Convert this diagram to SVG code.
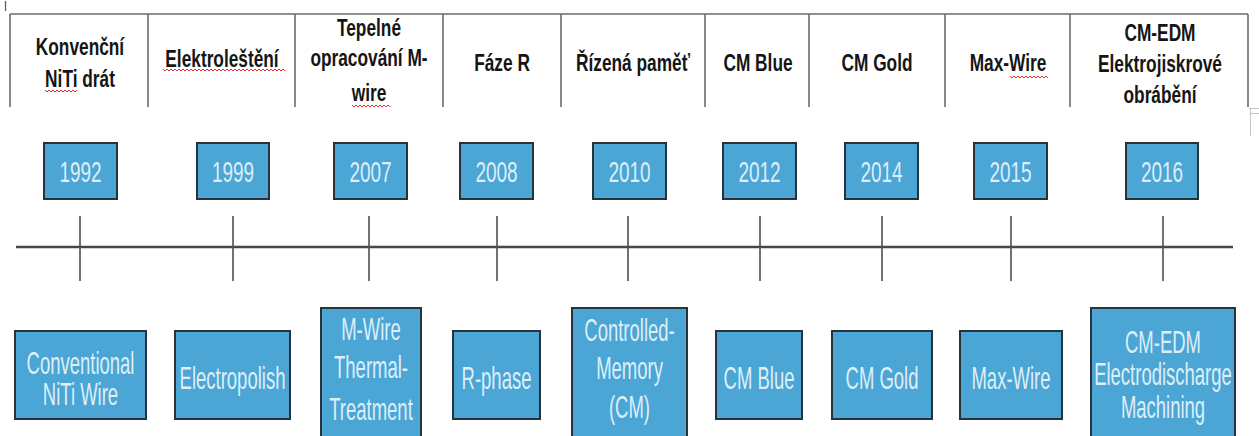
<svg xmlns="http://www.w3.org/2000/svg" width="1259" height="436" viewBox="0 0 1259 436">
<style>
.grid{stroke:#6a6a6a;stroke-width:1.6;fill:none}
.h{font-family:"Liberation Sans",Arial,sans-serif;font-weight:bold;font-size:17.3px;fill:#151515;text-anchor:middle}
.box{fill:#4ba5d5;stroke:#27323a;stroke-width:2}
.y{font-family:"Liberation Sans",Arial,sans-serif;font-size:19px;fill:#dcefF8;text-anchor:middle}
.t{font-family:"Liberation Sans",Arial,sans-serif;font-size:18.5px;fill:#dcefF8;text-anchor:middle}
.sq{stroke:#e03030;stroke-width:1;fill:none}
.axis{stroke:#474747;stroke-width:2.6}
.tick{stroke:#4f4f4f;stroke-width:1.6}
</style>
<rect width="1259" height="436" fill="#ffffff"/>
<g id="table">
<line class="grid" x1="10" y1="14" x2="1248" y2="14" stroke-width="2"/>
<line class="grid" x1="10" y1="14" x2="10" y2="107"/>
<line class="grid" x1="148" y1="14" x2="148" y2="107"/>
<line class="grid" x1="295" y1="14" x2="295" y2="107"/>
<line class="grid" x1="443" y1="14" x2="443" y2="107"/>
<line class="grid" x1="561" y1="14" x2="561" y2="107"/>
<line class="grid" x1="705" y1="14" x2="705" y2="107"/>
<line class="grid" x1="809" y1="14" x2="809" y2="107"/>
<line class="grid" x1="945" y1="14" x2="945" y2="107"/>
<line class="grid" x1="1070" y1="14" x2="1070" y2="107"/>
<line class="grid" x1="1248" y1="14" x2="1248" y2="107"/>
<line x1="5.5" y1="1" x2="5.5" y2="11" stroke="#555" stroke-width="1.2"/>
<path d="M1249 108.5 H1259 M1250.5 108.5 V136 M1250.5 113.5 H1259" stroke="#c4c4c4" stroke-width="1" fill="none"/>
</g>
<g id="h1"><text class="h" transform="translate(80,55) scale(1,1.38)">Konvenční</text><text class="h" transform="translate(80,87) scale(1,1.38)">NiTi drát</text><path class="sq" d="M45 90 l2 2 l2 -2 l2 2 l2 -2 l2 2 l2 -2 l2 2 l2 -2 l2 2 l2 -2 l2 2 l2 -2 l2 2 l2 -2 l2 2 l2 -2"/></g>
<g id="h2"><text class="h" transform="translate(222,67) scale(1,1.38)">Elektroleštění</text><path class="sq" d="M163 69 l2 2 l2 -2 l2 2 l2 -2 l2 2 l2 -2 l2 2 l2 -2 l2 2 l2 -2 l2 2 l2 -2 l2 2 l2 -2 l2 2 l2 -2 l2 2 l2 -2 l2 2 l2 -2 l2 2 l2 -2 l2 2 l2 -2 l2 2 l2 -2 l2 2 l2 -2 l2 2 l2 -2 l2 2 l2 -2 l2 2 l2 -2 l2 2 l2 -2 l2 2 l2 -2 l2 2 l2 -2 l2 2 l2 -2 l2 2 l2 -2 l2 2 l2 -2 l2 2 l2 -2 l2 2 l2 -2 l2 2 l2 -2 l2 2 l2 -2 l2 2 l2 -2 l2 2 l2 -2 l2 2 l2 -2 l2 2"/></g>
<g id="h3"><text class="h" transform="translate(369,36) scale(1,1.38)">Tepelné</text><text class="h" transform="translate(369,66) scale(1,1.38)">opracování M-</text><text class="h" transform="translate(369,101) scale(1,1.38)">wire</text><path class="sq" d="M352 105 l2 2 l2 -2 l2 2 l2 -2 l2 2 l2 -2 l2 2 l2 -2 l2 2 l2 -2 l2 2 l2 -2 l2 2 l2 -2 l2 2 l2 -2 l2 2 l2 -2 l2 2"/></g>
<g id="h4"><text class="h" transform="translate(502,71) scale(1,1.38)">Fáze R</text></g>
<g id="h5"><text class="h" transform="translate(633,71) scale(1,1.38)">Řízená paměť</text></g>
<g id="h6"><text class="h" transform="translate(758,71) scale(1,1.38)">CM Blue</text></g>
<g id="h7"><text class="h" transform="translate(877,71) scale(1,1.38)">CM Gold</text></g>
<g id="h8"><text class="h" transform="translate(1008,71) scale(1,1.38)">Max-Wire</text><path class="sq" d="M1010 76 l2 2 l2 -2 l2 2 l2 -2 l2 2 l2 -2 l2 2 l2 -2 l2 2 l2 -2 l2 2 l2 -2 l2 2 l2 -2 l2 2 l2 -2 l2 2 l2 -2 l2 2"/></g>
<g id="h9"><text class="h" transform="translate(1160,41) scale(1,1.38)">CM-EDM</text><text class="h" transform="translate(1160,72) scale(1,1.38)">Elektrojiskrové</text><text class="h" transform="translate(1160,103) scale(1,1.38)">obrábění</text></g>
<g id="connectors">
<line class="axis" x1="16" y1="247" x2="1233" y2="247"/>
<line class="tick" x1="80" y1="216" x2="80" y2="281"/>
<line class="tick" x1="233" y1="216" x2="233" y2="281"/>
<line class="tick" x1="369" y1="216" x2="369" y2="281"/>
<line class="tick" x1="497" y1="216" x2="497" y2="281"/>
<line class="tick" x1="628" y1="216" x2="628" y2="281"/>
<line class="tick" x1="760" y1="216" x2="760" y2="281"/>
<line class="tick" x1="882" y1="216" x2="882" y2="281"/>
<line class="tick" x1="1011" y1="216" x2="1011" y2="281"/>
<line class="tick" x1="1163" y1="216" x2="1163" y2="281"/>
</g>
<g id="y1992"><rect class="box" x="44" y="143" width="73" height="56"/><text class="y" transform="translate(80.5,182) scale(1,1.6)">1992</text></g>
<g id="y1999"><rect class="box" x="197" y="143" width="72" height="56"/><text class="y" transform="translate(233,182) scale(1,1.6)">1999</text></g>
<g id="y2007"><rect class="box" x="334" y="143" width="73" height="56"/><text class="y" transform="translate(370.5,182) scale(1,1.6)">2007</text></g>
<g id="y2008"><rect class="box" x="460" y="143" width="73" height="56"/><text class="y" transform="translate(496.5,182) scale(1,1.6)">2008</text></g>
<g id="y2010"><rect class="box" x="593" y="143" width="73" height="56"/><text class="y" transform="translate(629.5,182) scale(1,1.6)">2010</text></g>
<g id="y2012"><rect class="box" x="723" y="143" width="73" height="56"/><text class="y" transform="translate(759.5,182) scale(1,1.6)">2012</text></g>
<g id="y2014"><rect class="box" x="845" y="143" width="73" height="56"/><text class="y" transform="translate(881.5,182) scale(1,1.6)">2014</text></g>
<g id="y2015"><rect class="box" x="974" y="143" width="73" height="56"/><text class="y" transform="translate(1010.5,182) scale(1,1.6)">2015</text></g>
<g id="y2016"><rect class="box" x="1126" y="143" width="72" height="56"/><text class="y" transform="translate(1162,182) scale(1,1.6)">2016</text></g>
<g id="b1"><rect class="box" x="15" y="331" width="131" height="88"/><text class="t" transform="translate(80.5,374) scale(1,1.65)">Conventional</text><text class="t" transform="translate(80.5,405) scale(1,1.65)">NiTi Wire</text></g>
<g id="b2"><rect class="box" x="175" y="331" width="115" height="88"/><text class="t" transform="translate(232.5,389) scale(1,1.65)">Electropolish</text></g>
<g id="b3"><rect class="box" x="321" y="308" width="100" height="140"/><text class="t" transform="translate(371,340) scale(1,1.65)">M-Wire</text><text class="t" transform="translate(371,378) scale(1,1.65)">Thermal-</text><text class="t" transform="translate(371,420) scale(1,1.65)">Treatment</text></g>
<g id="b4"><rect class="box" x="453" y="331" width="87" height="88"/><text class="t" transform="translate(496.5,389) scale(1,1.65)">R-phase</text></g>
<g id="b5"><rect class="box" x="572" y="308" width="115" height="140"/><text class="t" transform="translate(629.5,341) scale(1,1.65)">Controlled-</text><text class="t" transform="translate(629.5,379) scale(1,1.65)">Memory</text><text class="t" transform="translate(629.5,418) scale(1,1.65)">(CM)</text></g>
<g id="b6"><rect class="box" x="716" y="331" width="86" height="88"/><text class="t" transform="translate(759,389) scale(1,1.65)">CM Blue</text></g>
<g id="b7"><rect class="box" x="832" y="331" width="100" height="88"/><text class="t" transform="translate(882,389) scale(1,1.65)">CM Gold</text></g>
<g id="b8"><rect class="box" x="960" y="331" width="102" height="88"/><text class="t" transform="translate(1011,389) scale(1,1.65)">Max-Wire</text></g>
<g id="b9"><rect class="box" x="1091" y="308" width="144" height="140"/><text class="t" transform="translate(1163,353) scale(1,1.65)">CM-EDM</text><text class="t" transform="translate(1163,385) scale(1,1.65)">Electrodischarge</text><text class="t" transform="translate(1163,418) scale(1,1.65)">Machining</text></g>
</svg>
